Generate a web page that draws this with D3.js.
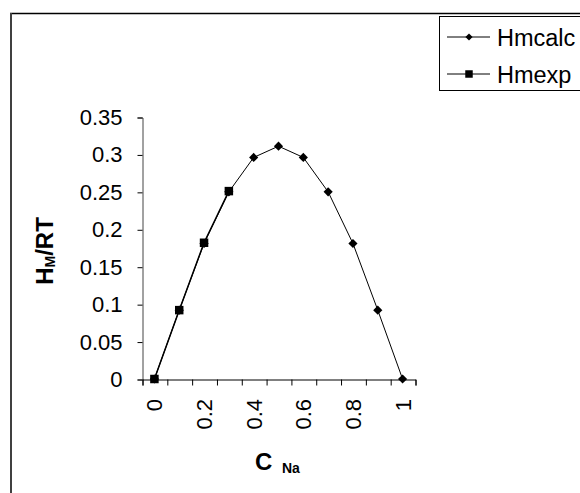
<!DOCTYPE html>
<html><head><meta charset="utf-8">
<script src="https://cdn.jsdelivr.net/npm/d3@7"></script>
<style>
html,body{margin:0;padding:0;background:#fff;}
svg{display:block;font-family:"Liberation Sans",Arial,sans-serif;}
</style></head>
<body>
<svg id="c" width="580" height="493"></svg>
<script>
const categories = ["0","0.1","0.2","0.3","0.4","0.5","0.6","0.7","0.8","0.9","1"];
const xTickLabels = ["0","0.2","0.4","0.6","0.8","1"];
const hmcalc = [0, 0.092, 0.181, 0.250, 0.296, 0.311, 0.296, 0.250, 0.181, 0.092, 0];
const hmexpCategories = ["0","0.1","0.2","0.3"];
const hmexp = [0, 0.092, 0.182, 0.251];
const yTicks = [0, 0.05, 0.1, 0.15, 0.2, 0.25, 0.3, 0.35];
const seriesNames = ["Hmcalc", "Hmexp"];

const svg = d3.select("#c");
// outer frame
svg.append("line").attr("x1",10).attr("x2",580).attr("y1",13.5).attr("y2",13.5)
  .attr("stroke","#000").attr("stroke-width",1.5);
svg.append("line").attr("x1",11).attr("x2",11).attr("y1",13).attr("y2",493)
  .attr("stroke","#404040").attr("stroke-width",2);

const pLeft = 142, pRight = 415, pTop = 117, pBottom = 379;
const x = d3.scaleBand().domain(categories).range([pLeft, pRight]).padding(0);
const xEdge = d3.scaleLinear().domain([0, categories.length]).range([pLeft, pRight]);
const y = d3.scaleLinear().domain([0, 0.35]).range([pBottom, pTop]);
const cx = c => x(c) + x.bandwidth()/2;

// y axis
const ya = svg.append("g").attr("transform",`translate(${pLeft+0.5},0.5)`)
  .call(d3.axisLeft(y).tickValues(yTicks).tickSize(5).tickPadding(15)
    .tickFormat(d => String(+d.toFixed(2))));
ya.select(".domain").attr("stroke","#444");
ya.selectAll(".tick line").attr("stroke","#000");
ya.selectAll("text").attr("font-size",22).attr("fill","#000")
  .attr("font-family","Liberation Sans, Arial, sans-serif");

// x axis (ticks at category boundaries)
const xa = svg.append("g").attr("transform",`translate(0.5,${pBottom+0.5})`)
  .call(d3.axisBottom(xEdge).tickValues(d3.range(categories.length+1)).tickSize(6).tickFormat(""));
xa.select(".domain").attr("stroke","#000");
xa.selectAll(".tick line").attr("stroke","#000");

// x tick labels rotated
svg.append("g").selectAll("text").data(xTickLabels).join("text")
  .attr("transform", d => `translate(${cx(d)+8},${pBottom+20}) rotate(-90)`)
  .attr("text-anchor","end").attr("font-size",22).attr("fill","#000")
  .text(d => d);

// lines
const line = d3.line().x(d => cx(d[0])).y(d => y(d[1]));
svg.append("path").datum(hmexpCategories.map((c,i)=>[c,hmexp[i]]))
  .attr("d",line).attr("fill","none").attr("stroke","#000").attr("stroke-width",1.5);
svg.append("path").datum(categories.map((c,i)=>[c,hmcalc[i]]))
  .attr("d",line).attr("fill","none").attr("stroke","#000").attr("stroke-width",1);

svg.append("g").selectAll("path").data(hmexpCategories.map((c,i)=>[c,hmexp[i]])).join("path")
  .attr("d", d3.symbol().type(d3.symbolSquare).size(72))
  .attr("transform", d => `translate(${cx(d[0])},${y(d[1])})`).attr("fill","#000");
svg.append("g").selectAll("path").data(categories.map((c,i)=>[c,hmcalc[i]])).join("path")
  .attr("d", d3.symbol().type(d3.symbolSquare).size(42))
  .attr("transform", d => `translate(${cx(d[0])},${y(d[1])}) rotate(45)`).attr("fill","#000");

// axis titles
const yt = svg.append("text").attr("transform","translate(53,251) rotate(-90)")
  .attr("text-anchor","middle").attr("font-size",24).attr("font-weight","bold").attr("fill","#000");
yt.append("tspan").text("H");
yt.append("tspan").attr("font-size",14).attr("dy",2).text("M");
yt.append("tspan").attr("dy",-2).text("/RT");

const xt = svg.append("text").attr("x",255).attr("y",470)
  .attr("font-size",24).attr("font-weight","bold").attr("fill","#000");
xt.append("tspan").text("C");
xt.append("tspan").attr("x",282).attr("font-size",14).attr("dy",3).text("Na");

// legend
const lg = svg.append("g");
lg.append("rect").attr("x",439.5).attr("y",16.5).attr("width",200).attr("height",74)
  .attr("fill","#fff").attr("stroke","#000").attr("stroke-width",1);
const ly = [37, 74];
seriesNames.forEach((n,i) => {
  lg.append("line").attr("x1",447).attr("x2",490).attr("y1",ly[i]).attr("y2",ly[i])
    .attr("stroke","#000").attr("stroke-width",1);
  lg.append("path").attr("d", i===0 ? d3.symbol().type(d3.symbolSquare).size(26)() : d3.symbol().type(d3.symbolSquare).size(56)())
    .attr("transform", `translate(469,${ly[i]})` + (i===0 ? " rotate(45)" : "")).attr("fill","#000");
  lg.append("text").attr("x",497).attr("y",ly[i]+8.5).attr("font-size",23.5).attr("fill","#000").text(n);
});
</script>
</body></html>
